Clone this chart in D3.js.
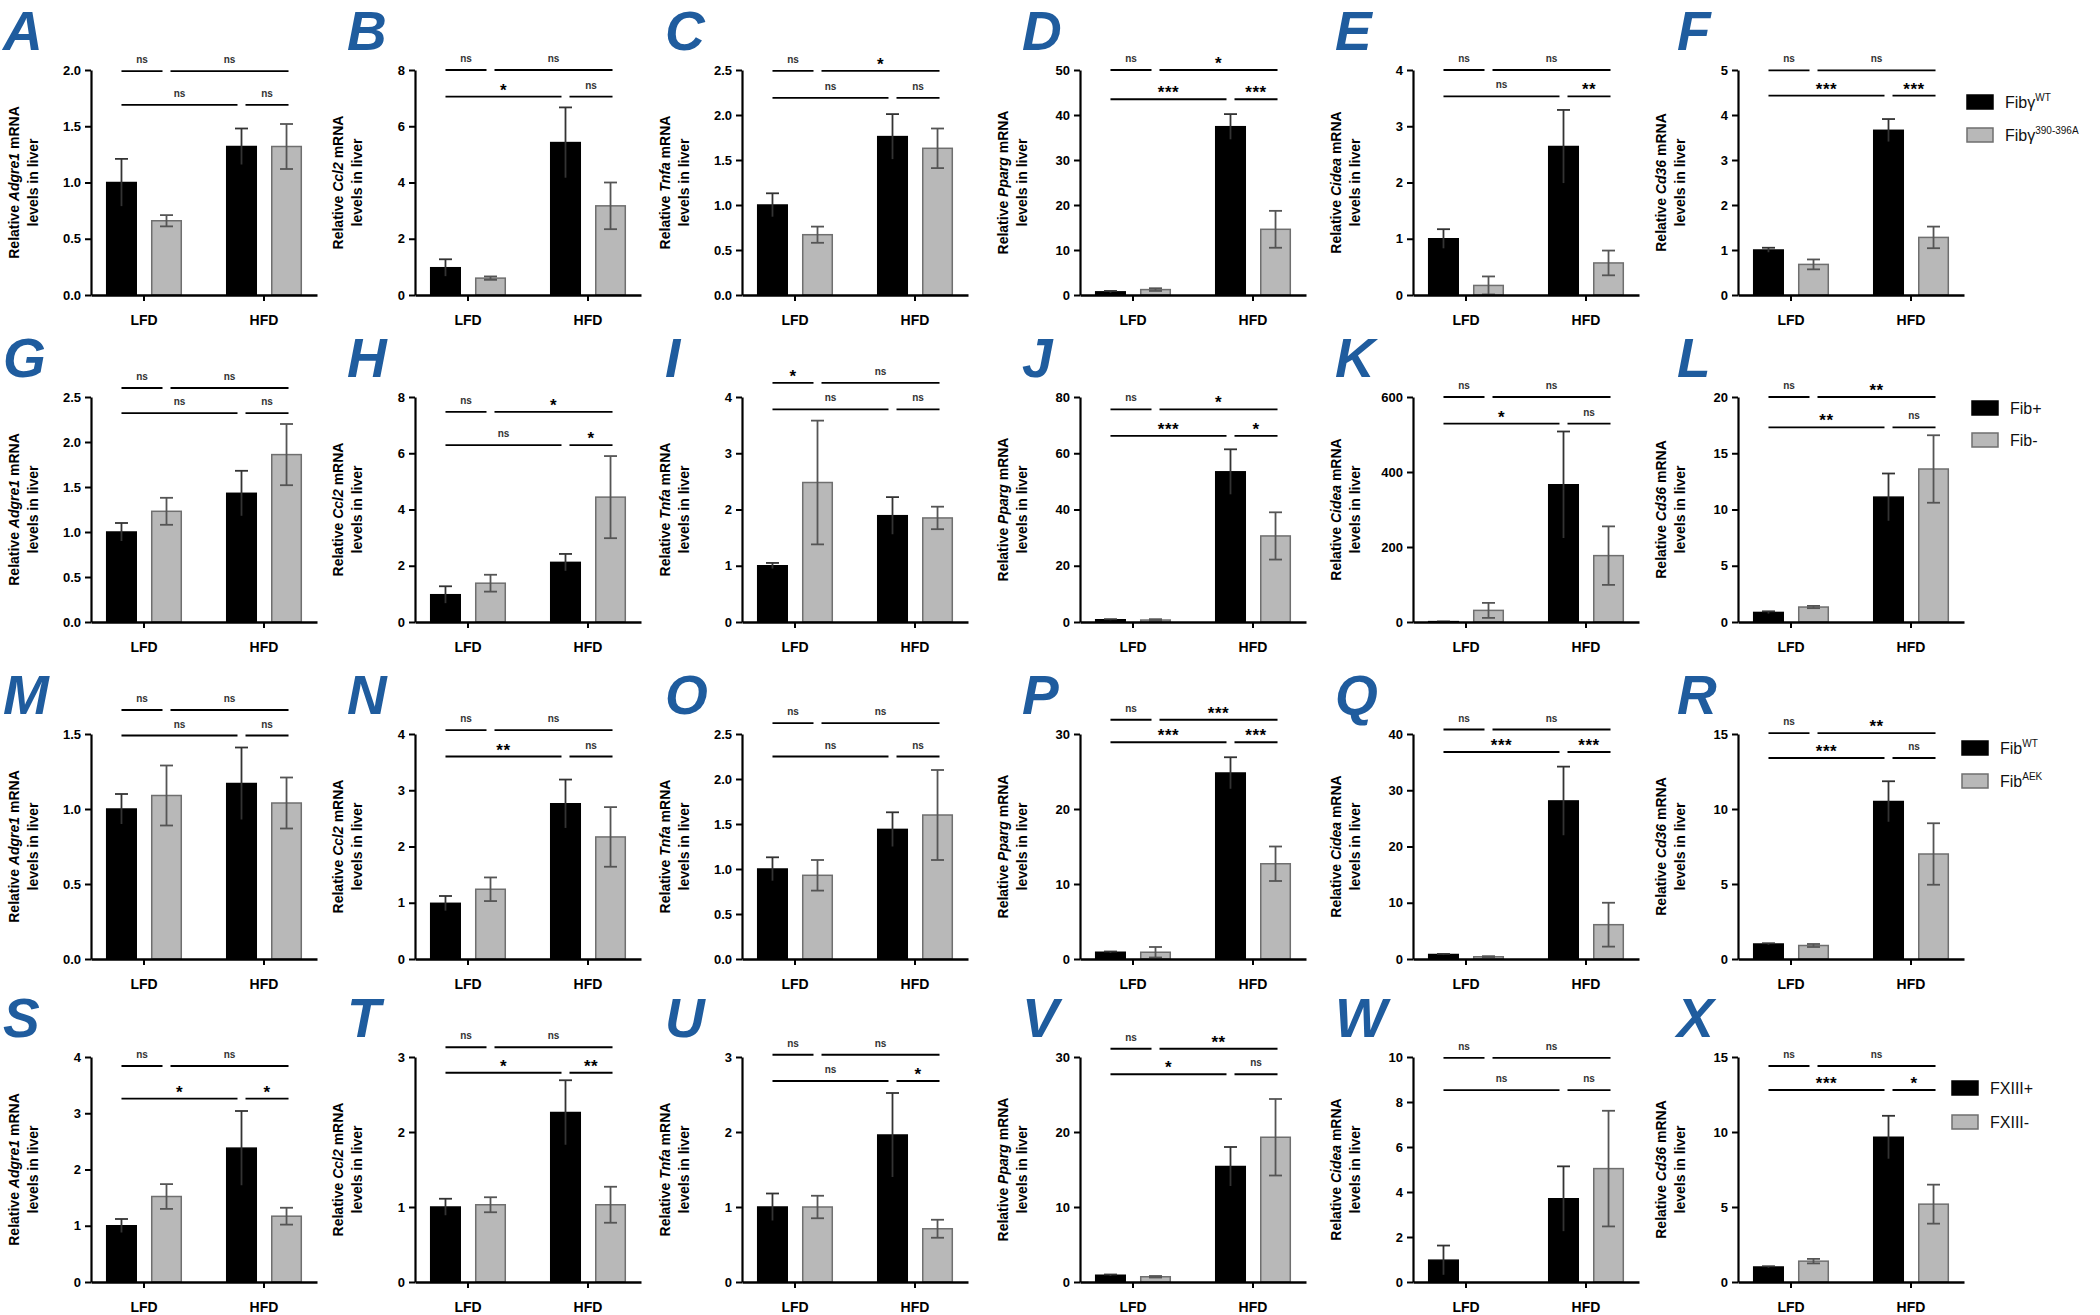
<!DOCTYPE html>
<html>
<head>
<meta charset="utf-8">
<script src="https://cdn.jsdelivr.net/npm/d3@7"></script>
<style>
  html, body { margin: 0; padding: 0; background: #fff; }
  svg { display: block; }
  text { font-family: "Liberation Sans", Arial, sans-serif; }
</style>
</head>
<body>
<svg id="chart" width="2100" height="1315"></svg>
<script>
// ---------------- DATA ----------------
const panelLetters = ["A","B","C","D","E","F","G","H","I","J","K","L","M","N","O","P","Q","R","S","T","U","V","W","X"];
const genes = ["Adgre1","Ccl2","Tnfa","Pparg","Cidea","Cd36"];
const groups = ["LFD","HFD"];
// legend labels per row: [base, superscript]
const legendLabels = [
  [["Fibγ","WT"],["Fibγ","390-396A"]],
  [["Fib+",""],["Fib-",""]],
  [["Fib","WT"],["Fib","AEK"]],
  [["FXIII+",""],["FXIII-",""]]
];
// bar order: LFD black, LFD gray, HFD black, HFD gray
const means = [
  [1.0,0.66,1.32,1.32],[0.97,0.6,5.42,3.17],[1.0,0.67,1.76,1.63],[0.7,1.2,37.4,14.6],[1.0,0.17,2.64,0.57],[1.0,0.68,3.66,1.28],
  [1.0,1.23,1.43,1.86],[0.97,1.38,2.12,4.44],[1.0,2.48,1.89,1.85],[0.8,0.7,53.4,30.6],[1,31,366,177],[0.85,1.33,11.1,13.6],
  [1.0,1.09,1.17,1.04],[0.99,1.24,2.76,2.17],[1.0,0.93,1.44,1.6],[0.9,0.9,24.8,12.7],[0.8,0.4,28.1,6.1],[1.0,0.9,10.5,7.0],
  [1.0,1.52,2.38,1.17],[1.0,1.03,2.26,1.03],[1.0,1.0,1.96,0.71],[0.9,0.7,15.4,19.3],[0.97,0,3.7,5.04],[1.0,1.39,9.65,5.19]
];
const errors = [
  [0.21,0.05,0.16,0.2],[0.3,0.06,1.25,0.83],[0.13,0.09,0.25,0.22],[0.2,0.3,2.8,4.1],[0.17,0.16,0.65,0.22],[0.05,0.11,0.25,0.24],
  [0.1,0.15,0.25,0.34],[0.3,0.3,0.3,1.46],[0.05,1.1,0.33,0.2],[0.2,0.3,8,8.4],[0.5,20,142,78],[0.1,0.1,2.1,3.0],
  [0.1,0.2,0.24,0.17],[0.13,0.21,0.43,0.53],[0.13,0.17,0.19,0.5],[0.1,0.7,2.1,2.3],[0.1,0.1,6.1,3.9],[0.05,0.1,1.35,2.05],
  [0.12,0.22,0.66,0.15],[0.11,0.1,0.43,0.24],[0.18,0.15,0.56,0.12],[0.1,0.1,2.6,5.1],[0.65,0,1.44,2.57],[0.05,0.15,1.43,1.3]
];
const yMax  = [2,8,2.5,50,4,5, 2.5,8,4,80,600,20, 1.5,4,2.5,30,40,15, 4,3,3,30,10,15];
const yStep = [0.5,2,0.5,10,1,1, 0.5,2,1,20,200,5, 0.5,1,0.5,10,10,5, 1,1,1,10,2,5];
// significance bracket levels (data units): [upper row, lower row]
const bracketY = [
  [1.99,1.69],[8.0,7.05],[2.49,2.19],[50,43.5],[4.0,3.53],[4.99,4.43],
  [2.6,2.32],[7.47,6.29],[4.25,3.78],[75.6,66.2],[600,529],[20,17.3],
  [1.66,1.49],[4.07,3.6],[2.62,2.25],[31.9,28.9],[40.8,36.8],[15.06,13.4],
  [3.84,3.26],[3.13,2.79],[3.03,2.68],[31.1,27.7],[9.96,8.53],[14.4,12.8]
];
// labels: [LFD-black vs LFD-gray, LFD-gray vs HFD-gray, LFD-black vs HFD-black, HFD-black vs HFD-gray]
const sigLabels = [
  ["ns","ns","ns","ns"],["ns","ns","*","ns"],["ns","*","ns","ns"],["ns","*","***","***"],["ns","ns","ns","**"],["ns","ns","***","***"],
  ["ns","ns","ns","ns"],["ns","*","ns","*"],["*","ns","ns","ns"],["ns","*","***","*"],["ns","ns","*","ns"],["ns","**","**","ns"],
  ["ns","ns","ns","ns"],["ns","ns","**","ns"],["ns","ns","ns","ns"],["ns","***","***","***"],["ns","ns","***","***"],["ns","**","***","ns"],
  ["ns","ns","*","*"],["ns","ns","*","**"],["ns","ns","ns","*"],["ns","**","*","ns"],["ns","ns","ns","ns"],["ns","ns","***","*"]
];

// ---------------- LAYOUT ----------------
const colX = [91, 415, 742, 1080, 1413, 1738];
const rowTop = [70, 397, 734, 1057];
const letterX = [3, 347, 665, 1022, 1335, 1677];
const legendX = [1967, 1972, 1962, 1952];
const legendDY = [[32,65],[11,43],[14,47],[31,65]];
const plotW = 226, plotH = 225;
const blue = "#1f5c9e";
const grayFill = "#b8b8b8", grayStroke = "#6f6f6f";

const svg = d3.select("#chart");

const xGroup = d3.scaleBand().domain(groups).range([0, plotW]).paddingInner(0.36).paddingOuter(0.1215);
const xSub = d3.scaleBand().domain([0,1]).range([0, xGroup.bandwidth()]).paddingInner(0.344).paddingOuter(0.025);

function barX(i) { return xGroup(groups[Math.floor(i/2)]) + xSub(i%2); }
function barC(i) { return barX(i) + xSub.bandwidth()/2; }

panelLetters.forEach((letter, p) => {
  const r = Math.floor(p/6), c = p % 6;
  const g = svg.append("g").attr("transform", `translate(${colX[c]},${rowTop[r]})`);
  const y = d3.scaleLinear().domain([0, yMax[p]]).range([plotH, 0]);

  // panel letter
  svg.append("text")
    .attr("x", letterX[c]).attr("y", rowTop[r] - 20)
    .attr("font-size", 55).attr("font-weight", "bold").attr("font-style", "italic")
    .attr("fill", blue).text(letter);

  // bars
  const vals = means[p], errs = errors[p];
  vals.forEach((v, i) => {
    const isGray = i % 2 === 1;
    g.append("rect")
      .attr("x", barX(i)).attr("width", xSub.bandwidth())
      .attr("y", y(v)).attr("height", Math.max(0, plotH - y(v)))
      .attr("fill", isGray ? grayFill : "#000")
      .attr("stroke", isGray ? grayStroke : "#000")
      .attr("stroke-width", 1.5);
  });
  // error bars
  vals.forEach((v, i) => {
    const e = errs[i];
    if (e <= 0) return;
    const isGray = i % 2 === 1;
    const col = isGray ? "#555" : "#333";
    const cx = barC(i), cap = 6.5;
    const lo = Math.max(0, v - e), hi = v + e;
    const eg = g.append("g").attr("stroke", col).attr("stroke-width", 1.8).attr("fill", "none");
    eg.append("line").attr("x1", cx).attr("x2", cx).attr("y1", y(lo)).attr("y2", y(hi));
    eg.append("line").attr("x1", cx - cap).attr("x2", cx + cap).attr("y1", y(hi)).attr("y2", y(hi));
    if (isGray) eg.append("line").attr("x1", cx - cap).attr("x2", cx + cap).attr("y1", y(lo)).attr("y2", y(lo));
  });

  // y axis
  const fmt = yStep[p] < 1 ? d3.format(".1f") : d3.format("d");
  const ticks = d3.range(0, yMax[p] + yStep[p]*0.01, yStep[p]);
  const ya = g.append("g")
    .call(d3.axisLeft(y).tickValues(ticks).tickFormat(fmt).tickSize(6).tickSizeOuter(0).tickPadding(4));
  ya.select(".domain").attr("stroke-width", 2.2);
  ya.selectAll(".tick line").attr("stroke-width", 2);
  ya.selectAll(".tick text").attr("font-size", 13).attr("font-weight", "bold").attr("fill", "#000")
    .style("font-family", "'Liberation Sans', Arial, sans-serif");

  // x axis
  const xa = g.append("g").attr("transform", `translate(0,${plotH})`)
    .call(d3.axisBottom(xGroup).tickSize(6).tickSizeOuter(0).tickPadding(14));
  xa.select(".domain").attr("stroke-width", 2.6);
  xa.selectAll(".tick line").attr("stroke-width", 2);
  xa.selectAll(".tick text").attr("font-size", 14).attr("font-weight", "bold").attr("fill", "#000")
    .style("font-family", "'Liberation Sans', Arial, sans-serif");

  // y label
  const yl1 = g.append("text").attr("text-anchor", "middle")
    .attr("transform", `translate(-77,${plotH/2}) rotate(-90)`).attr("dy", "0.35em")
    .attr("font-size", 14).attr("font-weight", "bold");
  yl1.append("tspan").text("Relative ");
  yl1.append("tspan").attr("font-style", "italic").text(genes[c]);
  yl1.append("tspan").text(" mRNA");
  g.append("text").attr("text-anchor", "middle")
    .attr("transform", `translate(-58,${plotH/2}) rotate(-90)`).attr("dy", "0.35em")
    .attr("font-size", 14).attr("font-weight", "bold").text("levels in liver");

  // significance brackets
  const gap = 4;
  const segs = [
    {x1: barC(0), x2: barC(1) - gap, lv: 0},
    {x1: barC(1) + gap, x2: barC(3) + 2, lv: 0},
    {x1: barC(0), x2: barC(2) - gap, lv: 1},
    {x1: barC(2) + gap, x2: barC(3) + 2, lv: 1}
  ];
  segs.forEach((s, k) => {
    const ly = y(bracketY[p][s.lv]);
    g.append("line").attr("x1", s.x1).attr("x2", s.x2).attr("y1", ly).attr("y2", ly)
      .attr("stroke", "#000").attr("stroke-width", 1.8);
    const lab = sigLabels[p][k];
    const isNs = lab === "ns";
    g.append("text").attr("x", (s.x1 + s.x2)/2)
      .attr("y", isNs ? ly - 8 : ly - 1)
      .attr("text-anchor", "middle")
      .attr("font-size", isNs ? 10 : 17)
      .attr("font-weight", "bold")
      .attr("fill", isNs ? "#333" : "#000")
      .attr("letter-spacing", isNs ? 0 : 0.5)
      .text(lab);
  });
});

// legends
legendLabels.forEach((labs, r) => {
  labs.forEach((lab, k) => {
    const cy = rowTop[r] + legendDY[r][k];
    svg.append("rect").attr("x", legendX[r]).attr("y", cy - 7).attr("width", 26).attr("height", 14)
      .attr("fill", k === 0 ? "#000" : grayFill)
      .attr("stroke", k === 0 ? "#000" : grayStroke).attr("stroke-width", 1.5);
    const t = svg.append("text").attr("x", legendX[r] + 38).attr("y", cy + 6)
      .attr("font-size", 16).attr("fill", "#111");
    t.append("tspan").text(lab[0]);
    if (lab[1]) t.append("tspan").attr("font-size", 10).attr("dy", -7).text(lab[1]);
  });
});
</script>
</body>
</html>
